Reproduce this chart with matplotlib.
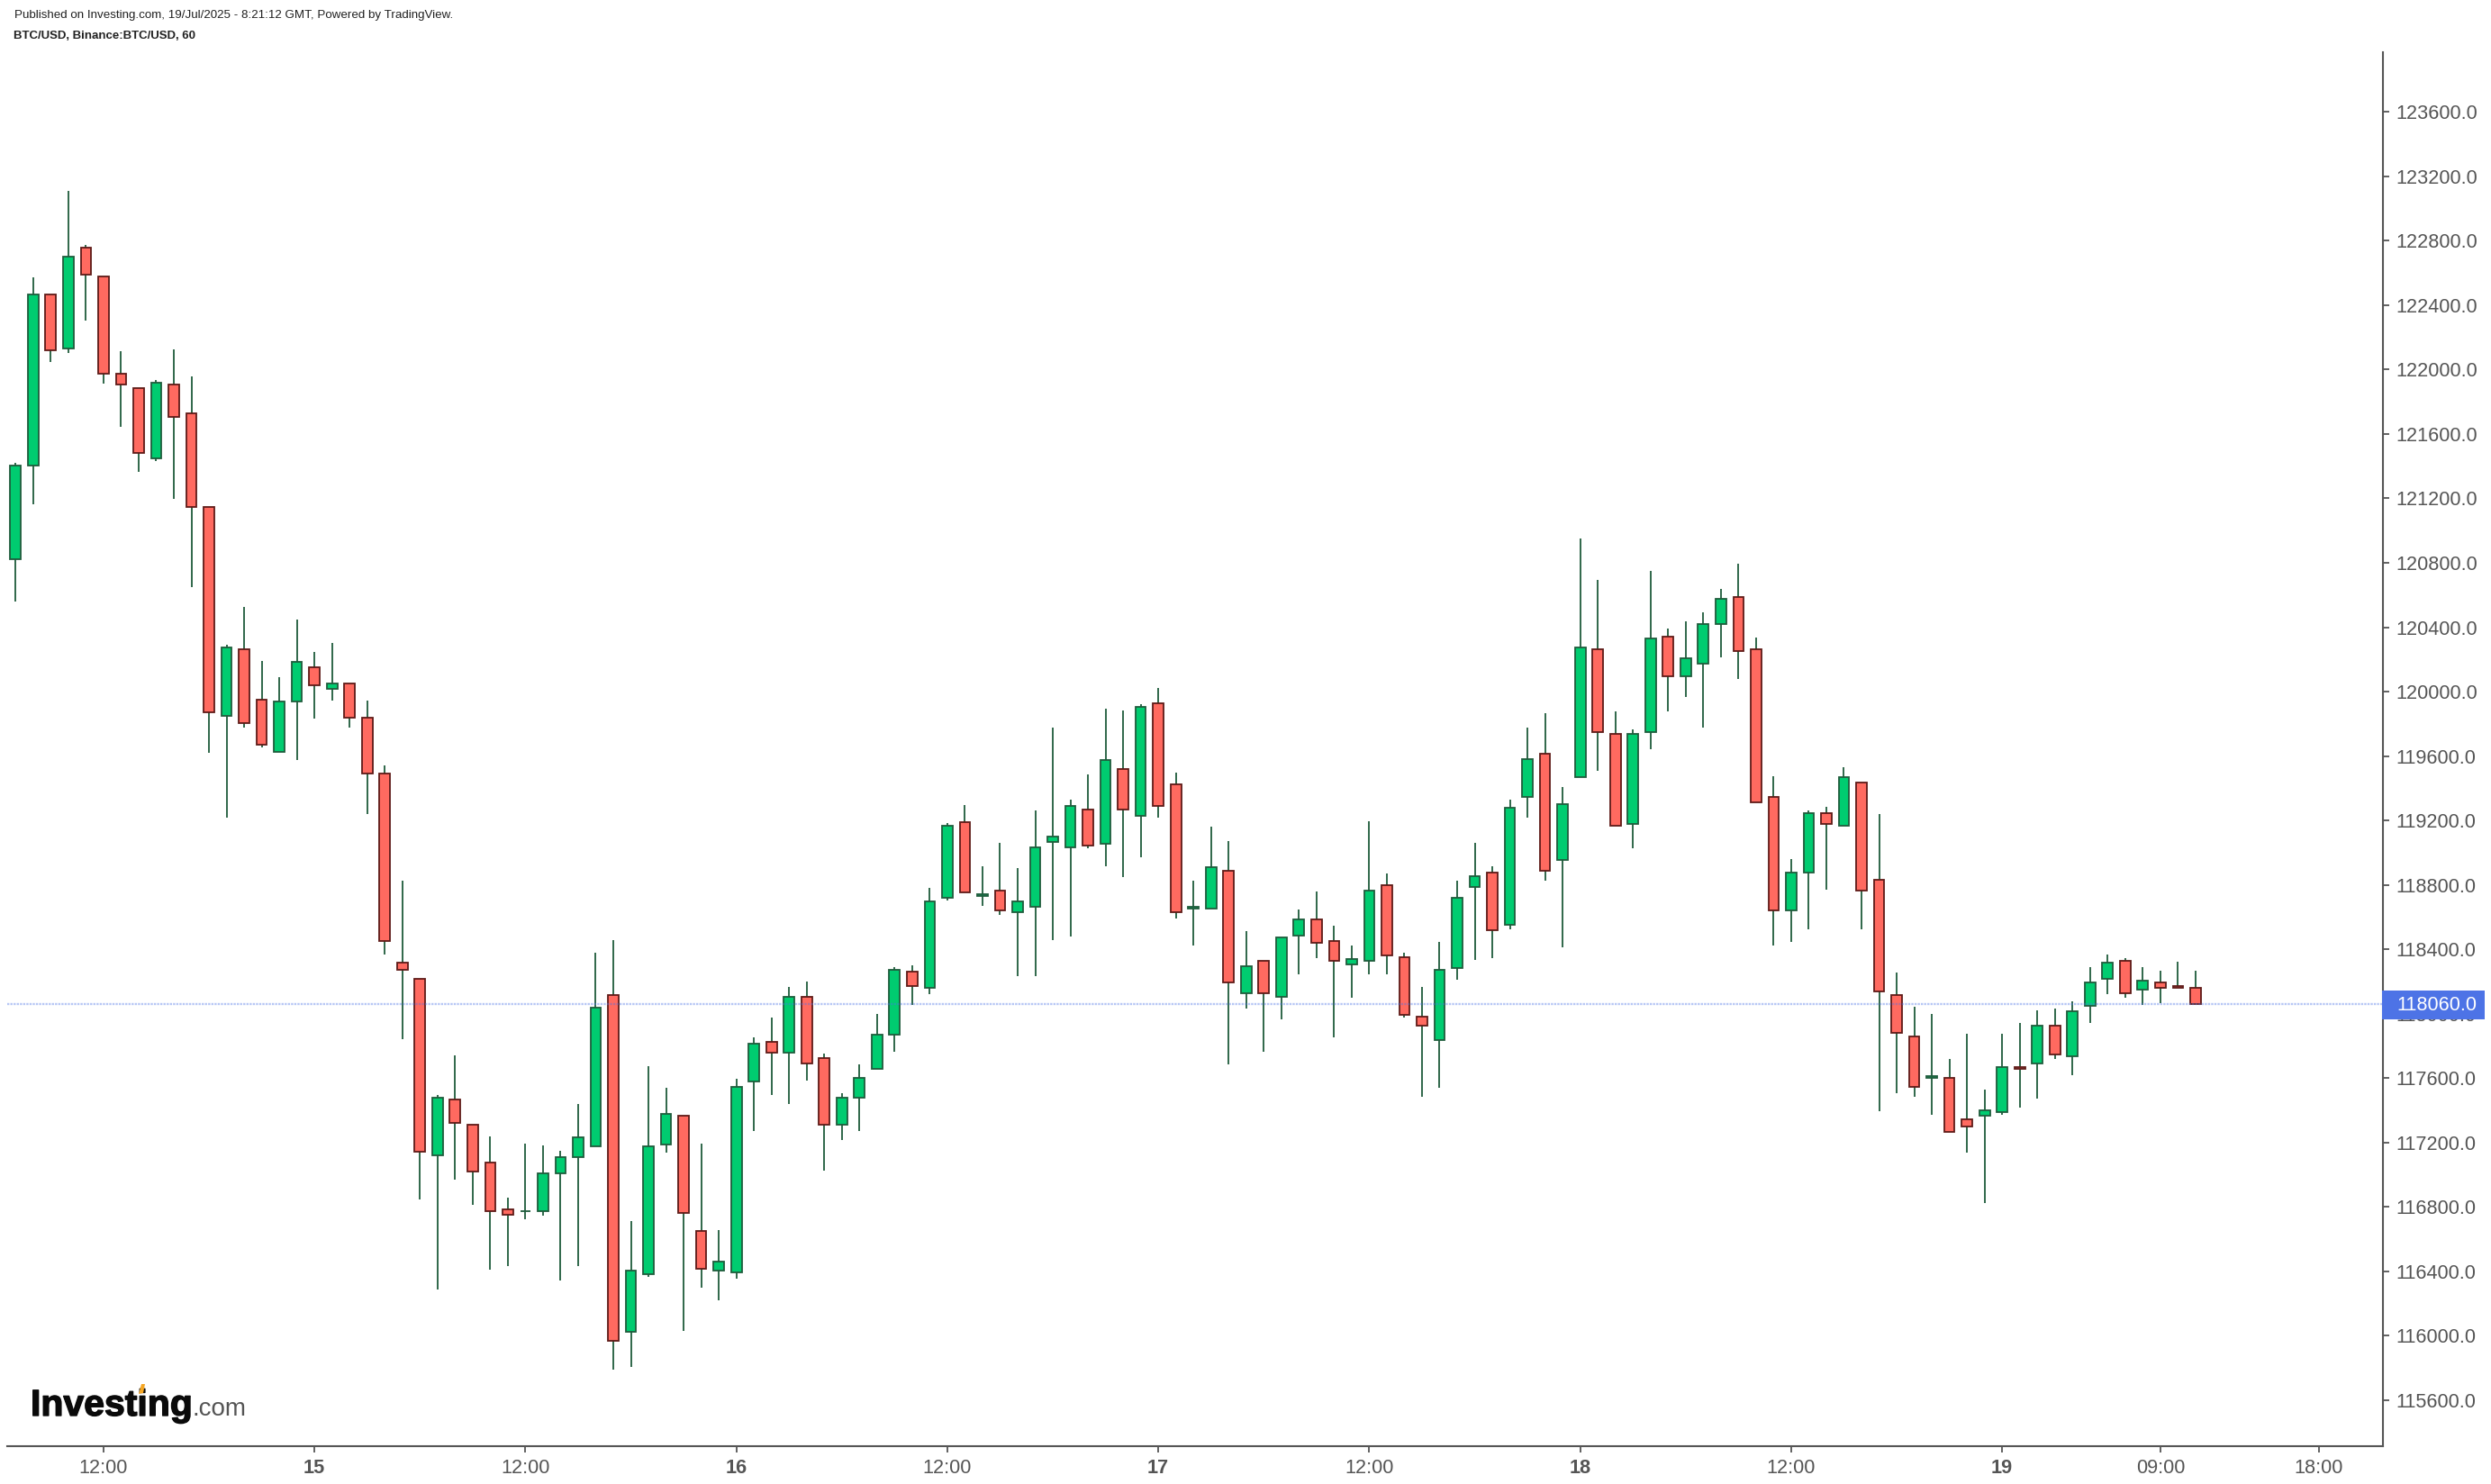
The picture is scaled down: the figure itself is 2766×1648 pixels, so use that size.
import matplotlib
matplotlib.use("Agg")
import matplotlib.pyplot as plt
import matplotlib.patheffects as pe
from matplotlib.patches import Polygon, Rectangle

# hourly candles, first one is 14 Jul 07:00
opens = [120824, 121405, 122464, 122132, 122755, 122576, 121972, 121882, 121450, 121905,
         121726, 121144, 119851, 120261, 119948, 119627, 119940, 120149, 120019, 120049,
         119836, 119489, 118315, 118215, 117123, 117465, 117309, 117074, 116783, 116772,
         116776, 117011, 117111, 117178, 118114, 116027, 116385, 117190, 117365, 116649,
         116407, 116396, 117581, 117823, 117760, 118103, 117723, 117313, 117480, 117659,
         117872, 118259, 118163, 118722, 119188, 118729, 118763, 118632, 118666, 119068,
         119035, 119266, 119057, 119519, 119229, 119926, 119422, 118651, 118655, 118886,
         118129, 118327, 118107, 118487, 118584, 118450, 118308, 118330, 118796, 118349,
         117980, 117838, 118286, 118789, 118874, 118554, 119348, 119612, 118956, 119471,
         120261, 119735, 119180, 119750, 120339, 120097, 120175, 120421, 120585, 120261,
         119344, 118643, 118878, 119243, 119169, 119434, 118830, 118114, 117857, 117600,
         117600, 117342, 117369, 117391, 117670, 117693, 117924, 117738, 118051, 118218,
         118327, 118151, 118192, 118172, 118159]
highs = [121420, 122572, 122464, 123109, 122773, 122576, 122114, 121882, 121935, 122125,
         121957, 121144, 120291, 120526, 120190, 120090, 120447, 120246, 120302, 120049,
         119944, 119542, 118826, 118215, 117495, 117741, 117309, 117238, 116858, 117193,
         117182, 117149, 117439, 118379, 118457, 116713, 117674, 117540, 117365, 117193,
         116657, 117596, 117853, 117976, 118166, 118200, 117752, 117506, 117685, 117998,
         118289, 118300, 118781, 119184, 119296, 118915, 119061, 118904, 119262, 119776,
         119329, 119486, 119894, 119883, 119922, 120023, 119497, 118826, 119161, 119072,
         118513, 118327, 118472, 118647, 118759, 118546, 118423, 119195, 118871, 118379,
         118166, 118446, 118826, 119061, 118915, 119329, 119776, 119866, 119407, 120951,
         120693, 119877, 119765, 120749, 120391, 120436, 120492, 120637, 120794, 120336,
         119475, 118960, 119262, 119284, 119530, 119434, 119240, 118256, 118043, 117998,
         117719, 117875, 117529, 117875, 117943, 118021, 118032, 118077, 118289, 118368,
         118345, 118289, 118267, 118323, 118267]
lows = [120559, 121163, 122046, 122102, 122304, 121912, 121644, 121364, 121431, 121197,
        120649, 119620, 119217, 119776, 119653, 119627, 119575, 119832, 119944, 119776,
        119240, 118368, 117842, 116847, 116288, 116970, 116813, 116411, 116433, 116724,
        116746, 116344, 116433, 117178, 115790, 115807, 116366, 117137, 116030, 116299,
        116221, 116355, 117272, 117495, 117439, 117585, 117026, 117216, 117272, 117659,
        117764, 118054, 118121, 118703, 118755, 118669, 118614, 118233, 118233, 118457,
        118479, 119027, 118915, 118848, 118971, 119217, 118591, 118423, 118655, 117685,
        118032, 117764, 117965, 118245, 118345, 117853, 118099, 118245, 118245, 117976,
        117484, 117540, 118211, 118334, 118345, 118524, 119217, 118826, 118412, 119471,
        119508, 119169, 119027, 119642, 119877, 119967, 119776, 120213, 120078, 119314,
        118423, 118446, 118524, 118770, 119169, 118524, 117395, 117506, 117484, 117372,
        117268, 117137, 116824, 117372, 117417, 117473, 117719, 117618, 117943, 118121,
        118099, 118054, 118066, 118161, 118060]
closes = [121402, 122464, 122121, 122699, 122591, 121976, 121909, 121484, 121916, 121707,
          121148, 119873, 120272, 119806, 119672, 119937, 120183, 120041, 120049, 119840,
          119493, 118453, 118274, 117145, 117477, 117324, 117022, 116776, 116754, 116776,
          117007, 117108, 117231, 118036, 115971, 116403, 117175, 117376, 116765, 116418,
          116459, 117544, 117812, 117760, 118103, 117693, 117313, 117477, 117600, 117868,
          118271, 118174, 118696, 119165, 118755, 118744, 118643, 118696, 119031, 119098,
          119288, 119046, 119575, 119270, 119903, 119292, 118632, 118666, 118908, 118196,
          118293, 118129, 118472, 118584, 118442, 118330, 118338, 118763, 118364, 117995,
          117928, 118271, 118718, 118852, 118520, 119277, 119579, 118889, 119299, 120272,
          119750, 119169, 119735, 120328, 120097, 120205, 120418, 120574, 120254, 119314,
          118643, 118874, 119243, 119180, 119467, 118766, 118140, 117883, 117547, 117615,
          117268, 117301, 117398, 117667, 117656, 117924, 117749, 118013, 118192, 118315,
          118129, 118204, 118163, 118161, 118060]

last_price = 118060
price_ticks = list(range(115600, 123601, 400))
time_ticks = [5, 17, 29, 41, 53, 65, 77, 89, 101, 113, 122, 131]
time_labels = ["12:00", "15", "12:00", "16", "12:00", "17", "12:00", "18", "12:00", "19", "09:00", "18:00"]

W, H = 2766, 1648
plt.rcParams["font.family"] = ["Liberation Sans", "DejaVu Sans"]

fig = plt.figure(figsize=(W / 100, H / 100), dpi=100, facecolor="white")
ax = fig.add_axes([8 / W, 1 - 1606 / H, (2646 - 8) / W, (1606 - 58) / H])

xs = list(range(len(opens)))
body_low = [min(o, c) for o, c in zip(opens, closes)]
body_size = [abs(c - o) for o, c in zip(opens, closes)]
fills = ["#00CC70" if c >= o else "#FF6A60" for o, c in zip(opens, closes)]
edges = ["#1F5C3C" if c >= o else "#5E1A17" for o, c in zip(opens, closes)]

ax.vlines(xs, lows, highs, color="#1F5C3C", linewidth=1.3, zorder=2)
ax.bar(xs, body_size, bottom=body_low, width=0.6, color=fills, edgecolor=edges, linewidth=1.3, zorder=3)
ax.axhline(last_price, color="#4D73E6", alpha=0.4, linewidth=1.7, linestyle=(0, (1, 0.5)), zorder=4)

ax.set_xlim(-0.476, 134.66)
ax.set_ylim(115315, 123970)

for side in ["top", "left"]:
    ax.spines[side].set_visible(False)
for side in ["bottom", "right"]:
    ax.spines[side].set_color("#555555")
    ax.spines[side].set_linewidth(1.5)

ax.yaxis.tick_right()
ax.set_yticks(price_ticks)
ax.set_yticklabels(["%.1f" % p for p in price_ticks])
ax.set_xticks(time_ticks)
ax.set_xticklabels(time_labels)
ax.tick_params(axis="both", color="#555555", labelcolor="#555555", length=5, width=1.3, labelsize=15.6)
ax.tick_params(axis="y", pad=5.5)
ax.tick_params(axis="x", pad=5)
for lab in ax.get_xticklabels():
    if len(lab.get_text()) == 2:
        lab.set_fontweight("bold")

# price tag on the axis
fig.add_artist(Rectangle((2645 / W, 1 - 1132 / H), 114 / W, 32 / H, transform=fig.transFigure,
                         facecolor="#4D73E6", edgecolor="none", zorder=5))
fig.text(2661 / W, 1 - 1116 / H, "%.1f" % last_price, color="white", fontsize=15.6, va="center", zorder=6)

# header
fig.text(16 / W, 1 - 17 / H, "Published on Investing.com, 19/Jul/2025 - 8:21:12 GMT, Powered by TradingView.",
         fontsize=9.6, color="#222222", va="center")
fig.text(15 / W, 1 - 40 / H, "BTC/USD, Binance:BTC/USD, 60", fontsize=9.5, fontweight="bold", color="#222222", va="center")

# logo
logo = fig.text(34 / W, 1 - 1572 / H, "Investing", fontsize=29.5, fontweight="bold", color="#0A0A0A", va="baseline", zorder=6)
logo.set_path_effects([pe.withStroke(linewidth=1, foreground="#0A0A0A")])
fig.text(213 / W, 1 - 1572 / H, ".com", fontsize=20, color="#555555", va="baseline", zorder=6)
tip = [(154, 1548), (157, 1537), (161, 1537), (159, 1547)]
fig.add_artist(Polygon([(x / W, 1 - y / H) for x, y in tip], transform=fig.transFigure,
                       facecolor="#F5A623", edgecolor="none", zorder=7))

fig.savefig("out.png", dpi=100)
